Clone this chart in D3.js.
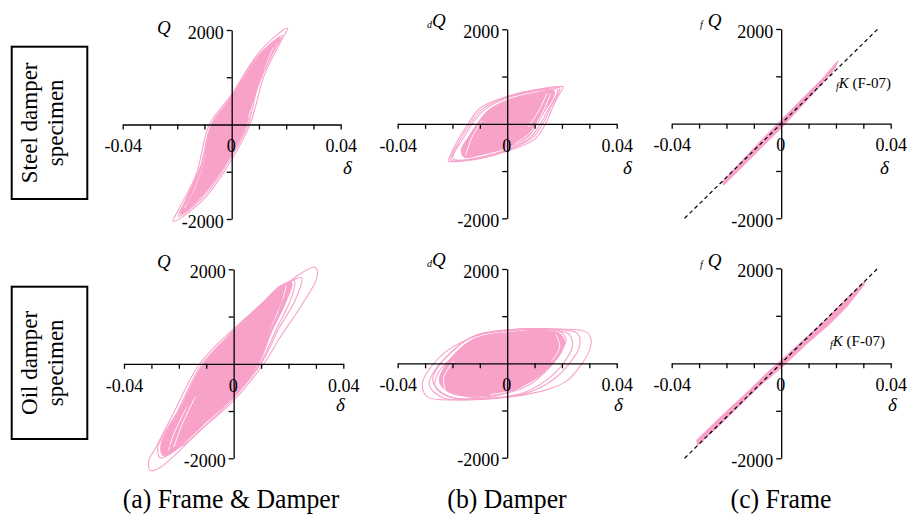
<!DOCTYPE html>
<html><head><meta charset="utf-8">
<script src="https://cdn.jsdelivr.net/npm/d3@7"></script>
<style>
body{margin:0;background:#fff}
svg{display:block}
text{font-family:"Liberation Serif","Times New Roman",serif;fill:#000}
</style>
</head><body>
<svg id="chart" width="907" height="516"></svg>
<script>
// ---------- tick / label data ----------
const xTicks = [-0.04,-0.03,-0.02,-0.01,0,0.01,0.02,0.03,0.04];
const xLabels = [-0.04,0,0.04];
const yTicks = [-2000,-1000,0,1000,2000];
const yLabels = [-2000,2000];
const rowLabels = [["Steel damper","specimen"],["Oil damper","specimen"]];
const captions = ["(a) Frame & Damper","(b) Damper","(c) Frame"];
const yNames = [["","Q"],["d","Q"],["f","Q"]];
const kLabel = ["f","K"," (F-07)"];
const stiffLine = [[-0.0353,-2000],[0.0353,2000]];

// ---------- (a) steel : frame & damper  [delta, Q] ----------
const steelFD_core = [[0.0178,1840],[0.0145,1450],[0.0095,850],[0.0055,0],[0.0,-620],[-0.008,-1320],[-0.0155,-1780],[-0.0188,-1890],[-0.0165,-1550],[-0.011,-850],[-0.0072,0],[0.0,570],[0.008,1300],[0.014,1700]];
const steelFD_loops = [
  [[0.0205,2040],[0.0175,1700],[0.012,1050],[0.0067,0],[0.0,-740],[-0.009,-1500],[-0.018,-1950],[-0.0215,-2050],[-0.019,-1750],[-0.013,-1050],[-0.0082,0],[0.0,640],[0.009,1450],[0.016,1870]],
  [[0.0186,1890],[0.015,1500],[0.010,900],[0.0060,0],[0.0,-660],[-0.008,-1370],[-0.016,-1820],[-0.0196,-1940],[-0.017,-1620],[-0.0115,-900],[-0.0075,0],[0.0,600],[0.008,1340],[0.0145,1720]],
  [[0.016,1680],[0.012,1150],[0.0065,300],[0.003,-250],[-0.004,-850],[-0.012,-1450],[-0.0165,-1720],[-0.0135,-1300],[-0.0075,-350],[-0.004,200],[0.003,800],[0.011,1400]]
];
const steelFD_gaps = [
  [[0.0168,1720],[0.0132,1250],[0.0088,600],[0.0062,150]],
  [[0.0152,1620],[0.0112,1050],[0.0075,350]],
  [[-0.0172,-1760],[-0.0135,-1330],[-0.0095,-650]]
];
// ---------- (b) steel : damper ----------
const steelD_core = [[0.0172,700],[0.0165,520],[0.014,300],[0.011,0],[0.0075,-280],[0.0,-500],[-0.010,-660],[-0.0158,-705],[-0.0168,-560],[-0.0138,-250],[-0.011,0],[-0.007,280],[0.0,500],[0.010,650]];
const steelD_loops = [
  [[0.0205,780],[0.019,620],[0.017,400],[0.014,0],[0.010,-330],[0.0,-580],[-0.010,-740],[-0.019,-800],[-0.0215,-790],[-0.021,-700],[-0.019,-450],[-0.0143,0],[-0.010,330],[0.0,580],[0.010,720],[0.019,790]],
  [[0.0185,730],[0.0176,560],[0.0152,330],[0.0122,0],[0.0082,-300],[0.0,-540],[-0.010,-710],[-0.0178,-770],[-0.0198,-745],[-0.0194,-620],[-0.0168,-380],[-0.0128,0],[-0.0082,300],[0.0,550],[0.010,690],[0.0168,740]],
  [[0.0192,760],[0.0182,580],[0.016,360],[0.013,0],[0.009,-310],[0.0,-560],[-0.010,-725],[-0.0184,-785],[-0.0206,-770],[-0.0202,-660],[-0.018,-420],[-0.0136,0],[-0.009,315],[0.0,565],[0.010,705],[0.0178,765]]
];
const steelD_gaps = [
  [[0.0158,630],[0.013,250],[0.009,-150],[0.003,-420]],
  [[-0.0152,-660],[-0.0128,-280],[-0.0092,60]],
  [[0.0145,645],[0.0118,300],[0.0078,-60]]
];
// ---------- (c) steel : frame ----------
const steelF_band = [[-0.0215,-1230],[-0.015,-830],[-0.008,-400],[0.0,70],[0.008,540],[0.015,940],[0.0207,1320],[0.0195,1160],[0.014,790],[0.007,350],[0.0,-90],[-0.008,-540],[-0.015,-950],[-0.021,-1290]];

// ---------- (a) oil : frame & damper ----------
const oilFD_core = [[0.0212,1720],[0.019,1300],[0.014,700],[0.009,0],[0.0,-680],[-0.012,-1330],[-0.021,-1820],[-0.0258,-1940],[-0.0265,-1700],[-0.0198,-980],[-0.011,0],[0.0,670],[0.010,1260],[0.017,1650]];
const oilFD_loops = [
  [[0.0297,2045],[0.0304,1833],[0.0243,1198],[0.017,563],[0.011,0],[0.0,-777],[-0.0122,-1411],[-0.0267,-2188],[-0.0304,-2258],[-0.031,-2046],[-0.029,-1835],[-0.022,-1050],[-0.0124,0],[0.0,740],[0.0123,1340],[0.0243,1905]],
  [[0.0222,1760],[0.0212,1420],[0.0155,720],[0.0095,0],[0.0,-690],[-0.0125,-1350],[-0.0225,-1880],[-0.0268,-1990],[-0.0276,-1760],[-0.0205,-1010],[-0.0115,0],[0.0,680],[0.0105,1280],[0.0185,1690]],
  [[0.0175,1550],[0.0165,1100],[0.011,480],[0.006,-100],[-0.004,-800],[-0.014,-1450],[-0.0225,-1780],[-0.0235,-1500],[-0.016,-800],[-0.008,0],[0.002,700],[0.010,1220]],
  [[0.0248,1820],[0.0225,1350],[0.0165,750],[0.0105,50],[0.0,-720],[-0.010,-1280],[-0.019,-1740],[-0.0245,-1840],[-0.0248,-1580],[-0.0185,-870],[-0.0105,0],[0.0,710],[0.012,1360],[0.020,1720]]
];
const oilFD_gaps = [
  [[-0.0238,-1840],[-0.0218,-1480],[-0.0168,-880]],
  [[0.0192,1640],[0.0172,1250],[0.0132,700]],
  [[-0.0218,-1760],[-0.0188,-1280],[-0.014,-700]]
];
// ---------- (b) oil : damper ----------
const oilD_core = [[-0.012,520],[0.0,650],[0.012,690],[0.019,640],[0.021,450],[0.018,100],[0.011,-300],[0.0,-600],[-0.012,-700],[-0.021,-620],[-0.0248,-380],[-0.021,80]];
const oilD_loops = [
  [[-0.011,586],[0.0,706],[0.0195,727],[0.0292,657],[0.0307,480],[0.030,270],[0.0274,0],[0.0219,-366],[0.0146,-557],[0.0,-719],[-0.017,-775],[-0.0292,-705],[-0.031,-436],[-0.0292,-190],[-0.0219,269]],
  [[-0.010,540],[0.0,680],[0.015,715],[0.0225,620],[0.0238,360],[0.0205,0],[0.0142,-360],[0.005,-640],[-0.008,-740],[-0.0205,-720],[-0.0262,-500],[-0.0252,-200],[-0.0195,160]],
  [[-0.008,470],[0.002,640],[0.013,700],[0.0198,570],[0.0198,250],[0.0152,-100],[0.008,-460],[-0.003,-665],[-0.014,-710],[-0.021,-520],[-0.0212,-200],[-0.0155,160]],
  [[-0.012,580],[0.0,710],[0.012,730],[0.0185,700],[0.0215,500],[0.0175,100],[0.0102,-310],[0.0,-620],[-0.012,-760],[-0.0225,-670],[-0.0272,-360],[-0.0228,100]],
  [[-0.013,560],[0.0,700],[0.014,725],[0.0255,640],[0.0265,380],[0.0228,0],[0.016,-380],[0.006,-650],[-0.009,-755],[-0.0235,-730],[-0.0285,-460],[-0.0265,-150],[-0.021,200]]
];
const oilD_gaps = [
  [[-0.0225,-600],[-0.0232,-300],[-0.0195,50]],
  [[0.0178,610],[0.0192,350],[0.0162,50]],
  [[-0.006,-660],[0.006,-520],[0.012,-280]]
];
// ---------- (c) oil : frame ----------
const oilF_band = [[-0.0308,-1620],[-0.022,-1130],[-0.012,-590],[-0.005,-200],[0.0,60],[0.008,480],[0.016,900],[0.022,1250],[0.0308,1740],[0.030,1640],[0.024,1200],[0.018,850],[0.010,450],[0.0,-90],[-0.008,-480],[-0.016,-930],[-0.024,-1380],[-0.0305,-1720]];

// ---------- layout ----------
const PINK = "#f8a2ca";
const panels = [
  {x0:122.7,x1:340.7,yT:30,  yB:219,   core:steelFD_core, loops:steelFD_loops, gaps:steelFD_gaps, col:0, qPos:[157,34], dPos:[343,174]},
  {x0:397.7,x1:616.7,yT:29.3,yB:218.3, core:steelD_core,  loops:steelD_loops,  gaps:steelD_gaps,  col:1, qPos:[432,27], dPos:[623,174]},
  {x0:671.7,x1:890.7,yT:29,  yB:218.3, band:steelF_band, col:2, qPos:[705,27], dPos:[880,174], kPos:[836,88]},
  {x0:124,  x1:343.3,yT:269.3,yB:458.3,core:oilFD_core,   loops:oilFD_loops,   gaps:oilFD_gaps,   col:0, qPos:[157,268], dPos:[336,411]},
  {x0:397.7,x1:616.7,yT:269, yB:457.7, core:oilD_core,    loops:oilD_loops,    gaps:oilD_gaps,    col:1, qPos:[432,266], dPos:[614,411]},
  {x0:671.7,x1:890.7,yT:268.3,yB:458.3,band:oilF_band,   col:2, qPos:[705,267], dPos:[888,411], kPos:[830,346]}
];

const svg = d3.select("#chart");

// row labels
const boxes = [{x:11.7,y:46.7},{x:11.7,y:286.7}];
boxes.forEach((b,i)=>{
  svg.append("rect").attr("x",b.x).attr("y",b.y).attr("width",75.6).attr("height",152.3)
    .attr("fill","none").attr("stroke","#000").attr("stroke-width",2);
  const cx = b.x+37.8, cy = b.y+76.15;
  const t = svg.append("g").attr("transform",`translate(${cx},${cy}) rotate(-90)`);
  rowLabels[i].forEach((s,j)=>{
    t.append("text").attr("x",0).attr("y",j===0?-12.5:13.5).attr("text-anchor","middle")
      .attr("font-size",23).text(s);
  });
});

const curve = d3.curveCatmullRomClosed.alpha(0.5);

panels.forEach(p=>{
  const x = d3.scaleLinear().domain([-0.04,0.04]).range([p.x0,p.x1]);
  const y = d3.scaleLinear().domain([-2000,2000]).range([p.yB,p.yT]);
  const line = d3.line().x(d=>x(d[0])).y(d=>y(d[1])).curve(curve);
  const open = d3.line().x(d=>x(d[0])).y(d=>y(d[1])).curve(d3.curveCatmullRom.alpha(0.5));
  const g = svg.append("g");

  if(p.core){
    g.append("path").attr("d",line(p.core)).attr("fill",PINK).attr("stroke",PINK).attr("stroke-width",1);
    p.gaps.forEach(l=>{
      g.append("path").attr("d",open(l)).attr("fill","none").attr("stroke","#fff").attr("stroke-width",0.9).attr("stroke-linecap","round");
    });
    p.loops.forEach(l=>{
      g.append("path").attr("d",line(l)).attr("fill","none").attr("stroke",PINK).attr("stroke-width",1.1);
    });
  }
  if(p.band){
    const bl = d3.line().x(d=>x(d[0])).y(d=>y(d[1])).curve(d3.curveLinearClosed);
    g.append("path").attr("d",bl(p.band)).attr("fill",PINK).attr("stroke",PINK).attr("stroke-width",1.2).attr("stroke-linejoin","round");
  }

  // axes
  const xa = d3.axisBottom(x).tickValues(xTicks).tickSize(5).tickSizeOuter(0).tickPadding(10)
    .tickFormat(d=> xLabels.some(v=>Math.abs(v-d)<1e-9) ? String(+d.toFixed(2)) : "");
  const gx = svg.append("g").attr("transform",`translate(0,${y(0)})`).call(xa);
  gx.selectAll("text").attr("font-size",18).attr("font-family","Liberation Serif");
  gx.selectAll("text").filter(d=>d===0).attr("dx",-1);
  const ya = d3.axisLeft(y).tickValues(yTicks).tickSize(5).tickSizeOuter(0).tickPadding(3)
    .tickFormat(d=> yLabels.includes(d) ? String(d) : "");
  const gy = svg.append("g").attr("transform",`translate(${x(0)},0)`).call(ya);
  gy.selectAll("text").attr("font-size",18).attr("font-family","Liberation Serif").attr("dy","0.45em");
  svg.selectAll(".domain,.tick line").attr("stroke","#000").attr("stroke-width",1.3);
  gx.selectAll(".tick").filter(d=>d===0).select("line").remove();
  gy.selectAll(".tick").filter(d=>d===0).select("line").remove();

  // dashed stiffness line
  if(p.band){
    svg.append("path").attr("d",d3.line().x(d=>x(d[0])).y(d=>y(d[1]))(stiffLine))
      .attr("fill","none").attr("stroke","#000").attr("stroke-width",1.2).attr("stroke-dasharray","4,3");
    const kt = svg.append("text").attr("x",p.kPos[0]).attr("y",p.kPos[1]);
    kt.append("tspan").attr("font-style","italic").attr("font-size",10).attr("dy",2).text(kLabel[0]);
    kt.append("tspan").attr("font-style","italic").attr("font-size",15).attr("dy",-2).text(kLabel[1]);
    kt.append("tspan").attr("font-size",15).text(kLabel[2]);
  }

  // axis names
  const nm = yNames[p.col];
  const qt = svg.append("text").attr("x",p.qPos[0]-(nm[0]?5:0)).attr("y",p.qPos[1]);
  if(nm[0]) qt.append("tspan").attr("font-style","italic").attr("font-size",10).attr("dy",1).text(nm[0]);
  qt.append("tspan").attr("font-style","italic").attr("font-size",19).attr("dy",nm[0]?-1:0).attr("dx",nm[0]?(p.col===2?5:0):0).text(nm[1]);
  svg.append("text").attr("x",p.dPos[0]).attr("y",p.dPos[1]).attr("font-style","italic").attr("font-size",19).text("δ");
});

// captions (slightly condensed, as in the reference)
const capX = [231,507,781];
captions.forEach((c,i)=>{
  svg.append("text").attr("transform",`translate(${capX[i]},508) scale(0.92,1)`)
    .attr("text-anchor","middle").attr("font-size",28).text(c);
});
</script>
</body></html>
